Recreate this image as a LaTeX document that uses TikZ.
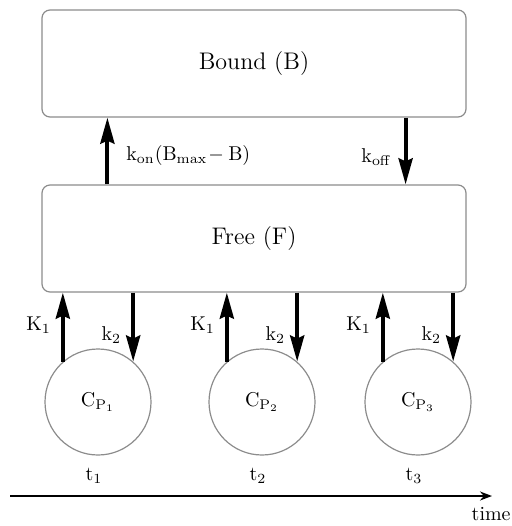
\documentclass[tikz,border=0pt]{standalone}
\usetikzlibrary{arrows.meta,positioning,calc}
\definecolor{boxline}{HTML}{8C8C8C}
\tikzset{
  comp/.style={draw=boxline, rounded corners=4pt, line width=0.6pt, minimum width=212pt, minimum height=53.5pt, font=\large},
  pool/.style={circle, draw=boxline, line width=0.6pt, minimum size=53pt, inner sep=0pt},
  arr/.style={-{Stealth[length=13pt,width=7pt,inset=1.5pt]}, line width=2pt},
  axis/.style={-{Stealth[length=6pt,width=4.5pt]}, line width=1.3pt},
  lbl/.style={font=\normalsize, inner sep=1pt},
}
\begin{document}
\begin{tikzpicture}[x=0.5pt, y=-0.5pt]
    \useasboundingbox (0,0) rectangle (512,526);
    \node[comp] (bound) at (254,63.5) {Bound (B)};
    \node[comp] (free) at (254,238.5) {Free (F)};
    % binding and release
    \draw[arr] ([xshift=33pt]free.north west) -- ([xshift=33pt]bound.south west);
    \draw[arr] ([xshift=-30.5pt]bound.south east) -- ([xshift=-30.5pt]free.north east);
    \node[lbl, anchor=west] (kon) at (124,155) {$\mathrm{k_{on}(B_{max}\!-B)}$};
    \node[lbl, anchor=east] (koff) at (394,157) {$\mathrm{k_{off}}$};
    % plasma samples
    \foreach \i/\cx in {1/98,2/262,3/418} {
      \node[pool] (cp\i) at (\cx,402) {$\mathrm{C_{P_{\i}}}$};
      \draw[arr] (cp\i.131) -- (cp\i.131 |- free.south) node[lbl, pos=0.53, left=4pt] {$\mathrm{K_1}$};
      \draw[arr] (cp\i.49 |- free.south) -- (cp\i.49) node[lbl, pos=0.62, left=4pt] {$\mathrm{k_2}$};
      \node[lbl] (t\i) at (\cx-4,476) {$\mathrm{t_{\i}}$};
    }
    % time axis
    \coordinate (ax0) at (10,496);
    \coordinate (ax1) at (492,496);
    \draw[axis] (ax0) -- (ax1);
    \node[lbl, anchor=base east, inner sep=0pt] (time) at (511,520) {time};
\end{tikzpicture}
\end{document}
